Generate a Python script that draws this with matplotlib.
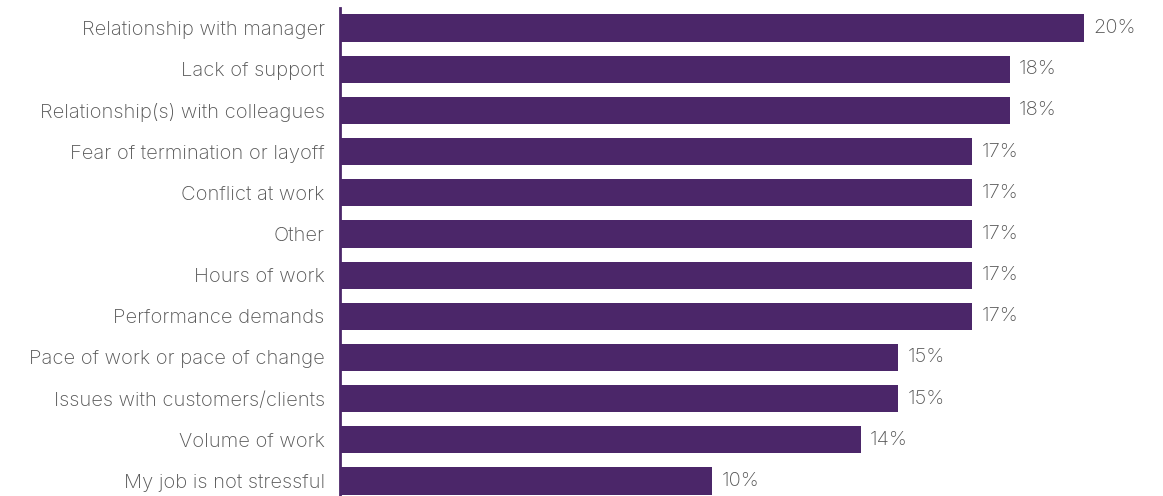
import matplotlib.pyplot as plt

# データ
categories = [
    "Relationship with manager",
    "Lack of support",
    "Relationship(s) with colleagues",
    "Fear of termination or layoff",
    "Conflict at work",
    "Other",
    "Hours of work",
    "Performance demands",
    "Pace of work or pace of change",
    "Issues with customers/clients",
    "Volume of work",
    "My job is not stressful",
]
values = [20, 18, 18, 17, 17, 17, 17, 17, 15, 15, 14, 10]

BAR_COLOR = "#4b2669"
TEXT_COLOR = "#555555"

plt.rcParams['font.family'] = ['Inter', 'DejaVu Sans']

W, H = 1163, 496
fig = plt.figure(figsize=(W / 100, H / 100), dpi=100)
ax = fig.add_axes([340 / W, 0, (W - 340) / W, 488 / H])

y = list(range(len(categories)))
ax.barh(y, values, height=0.66, color=BAR_COLOR)

# 値ラベル
for yi, v in zip(y, values):
    ax.text(v + 0.25, yi, f"{v}%", va='center', ha='left',
            fontsize=14.5, color=TEXT_COLOR, fontweight='light')

ax.set_yticks(y)
ax.set_yticklabels(categories, fontsize=14.5, color=TEXT_COLOR, fontweight='light')
ax.tick_params(axis='y', length=0, pad=11)
ax.set_xticks([])

ax.set_xlim(0, (W - 341) / 37.15)
ax.set_ylim(11.364, -0.486)

for s in ['top', 'right', 'bottom']:
    ax.spines[s].set_visible(False)
ax.spines['left'].set_color(BAR_COLOR)
ax.spines['left'].set_linewidth(2)

fig.savefig("out.png", dpi=100)
